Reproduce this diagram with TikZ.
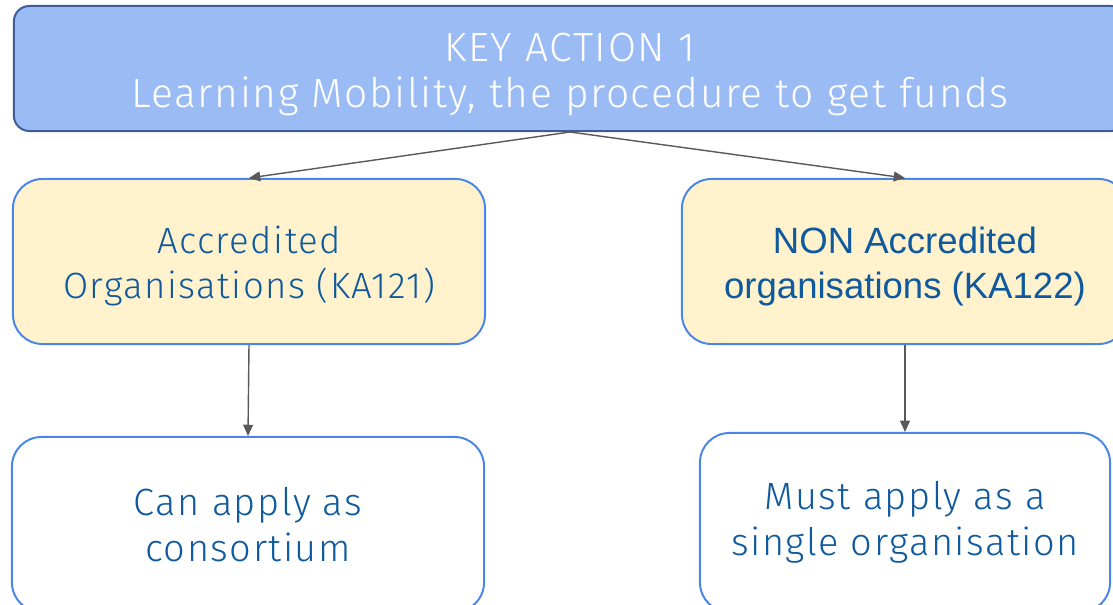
\documentclass[tikz,border=0pt]{standalone}
\usepackage{fontspec}
\setmainfont{Fira Sans Light}[LetterSpace=4]
\newfontfamily\arialfont{Liberation Sans}
\usepackage{tikz}
\usetikzlibrary{positioning,arrows.meta}

\definecolor{keyfill}{HTML}{9BBBF5}
\definecolor{keyline}{HTML}{3D5C99}
\definecolor{orgfill}{HTML}{FFF2CC}
\definecolor{orgline}{HTML}{4A86E8}
\definecolor{orgtext}{HTML}{0F5A9E}
\definecolor{arrowgray}{HTML}{595959}

\newcommand{\lift}{\rule{0pt}{1.0em}}

\begin{document}
\begin{tikzpicture}[x=0.025cm,y=-0.025cm,
  keybox/.style={draw=keyline,fill=keyfill,line width=1.4pt,rounded corners=11pt,
    text=white,align=center,font=\fontsize{29}{32.6}\selectfont},
  orgbox/.style={draw=orgline,fill=orgfill,line width=1.4pt,rounded corners=21pt,
    text=orgtext,align=center,font=\fontsize{26}{32.6}\selectfont},
  applybox/.style={orgbox,fill=white,font=\fontsize{27}{32.6}\selectfont},
  link/.style={draw=arrowgray,line width=1pt,-{Triangle[length=8pt,width=7pt]}}]
\useasboundingbox (0,0) rectangle (1113,605);

% top box
\node[keybox,minimum width=27.8cm,minimum height=3.125cm] (ka) at (570,68.5)
  {\lift KEY ACTION 1\\Learning Mobility, the procedure to get funds};

% second row
\node[orgbox,minimum width=11.8cm,minimum height=4.125cm] (accr) at (249,261.5)
  {\lift Accredited\\Organisations (KA121)};
\node[orgbox,minimum width=11.15cm,minimum height=4.125cm,
  font=\arialfont\fontsize{26}{32.6}\selectfont] (nonaccr) at (905,261.5)
  {\lift NON Accredited\\organisations (KA122)};

% third row
\node[applybox,minimum width=11.8cm,minimum height=4.375cm] (cons) at (248,524.5)
  {Can apply as\\consortium};
\node[applybox,minimum width=10.25cm,minimum height=4.475cm] (single) at (905,522.5)
  {Must apply as a\\single organisation};

\draw[link] (ka.south) -- (accr.north);
\draw[link] (ka.south) -- (nonaccr.north);
\draw[link] (accr.south) -- (cons.north);
\draw[link] (nonaccr.south) -- (single.north);

\end{tikzpicture}
\end{document}
